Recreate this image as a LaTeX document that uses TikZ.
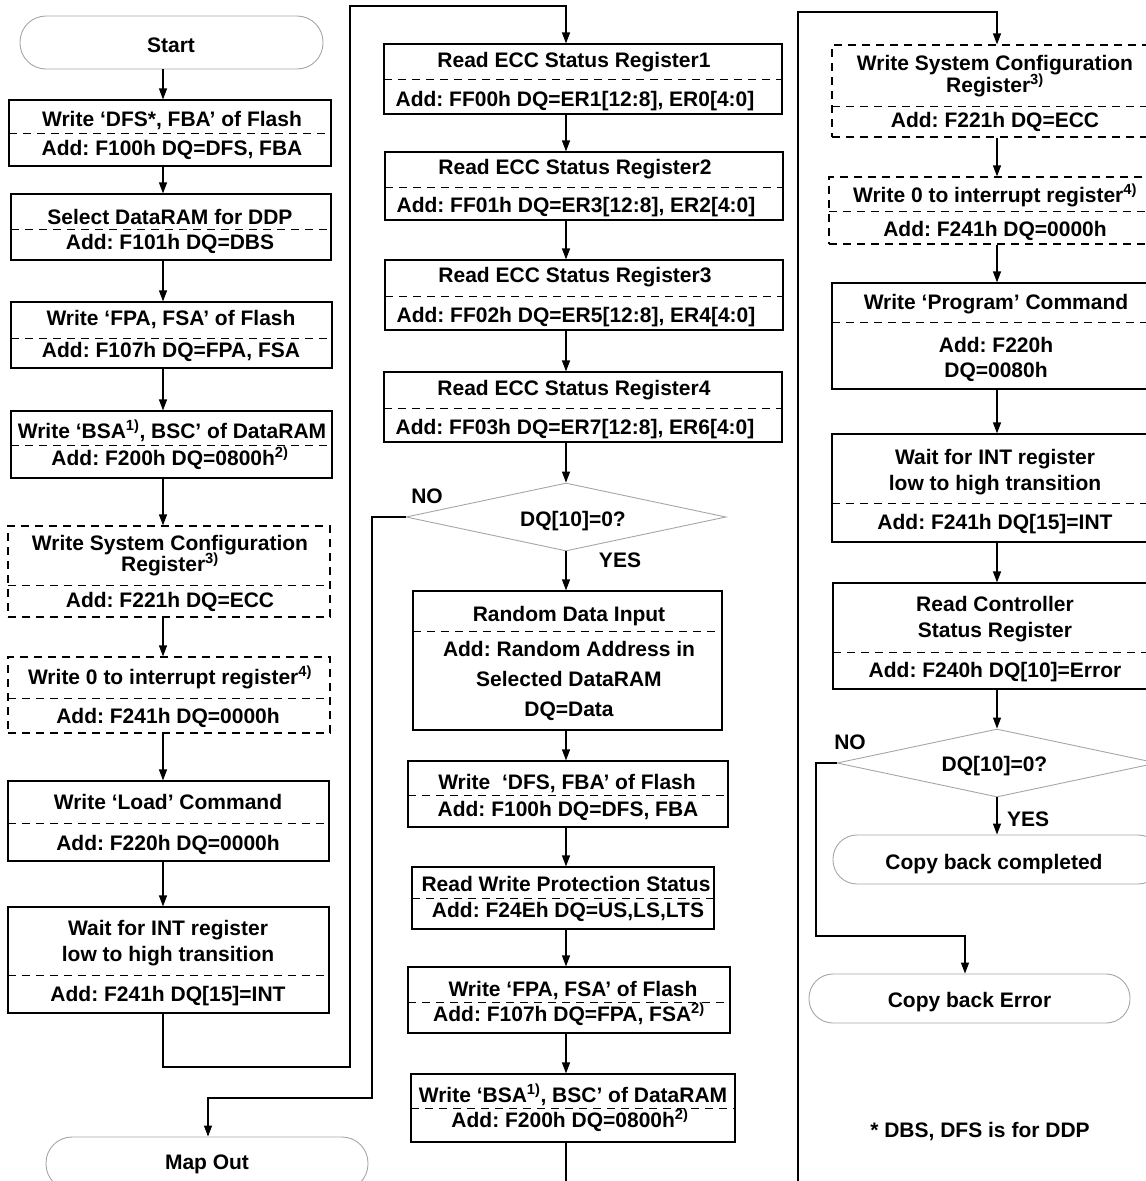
\documentclass[tikz,border=0pt]{standalone}
\usepackage{fontspec}
\setmainfont{Liberation Sans}
\usetikzlibrary{arrows.meta,shapes.geometric,fit}
\frenchspacing
\begin{document}
\begin{tikzpicture}[x=1pt,y=-1pt,
  font=\fontsize{21}{25}\selectfont\bfseries,
  box/.style={draw, line width=1.2pt, inner sep=0pt},
  dbox/.style={box, dash pattern=on 8pt off 6pt},
  term/.style={draw=gray!70, line width=0.9pt, inner sep=0pt, rounded corners=#1},
  term/.default=26pt,
  cond/.style={draw=gray!70, line width=0.9pt, shape=diamond, inner sep=0pt,
    shape aspect=4.7, minimum width=320pt, minimum height=68pt},
  lbl/.style={inner sep=0pt, text height=15pt, text depth=0pt},
  sep/.style={line width=1pt, dash pattern=on 8pt off 6pt},
  wire/.style={line width=1.2pt},
  arr/.style={wire, -{Triangle[length=11pt,width=8pt]}}]

\useasboundingbox (0,0) rectangle (1146,1181);
\clip (0,0) rectangle (1146,1181);

% column axes for the connectors
\coordinate (cL) at (163,0);
\coordinate (cM) at (566,0);
\coordinate (cR) at (997,0);
\coordinate (cMO) at (208,0);
\coordinate (cCE) at (965,0);

% ---------------- left column ----------------
\node[term, fit={(20,16)(323,69)}] (start) {};
\node[lbl] (startT) at (171,45) {Start};

\node[box, fit={(9,100)(331,166)}] (L1) {};
\draw[sep] (9,133) -- (331,133);
\node[lbl] (L1a) at (172,119) {Write ‘DFS*, FBA’ of Flash};
\node[lbl] (L1b) at (172,148) {Add: F100h DQ=DFS, FBA};

\node[box, fit={(11,194)(331,260)}] (L2) {};
\draw[sep] (11,229) -- (331,229);
\node[lbl] (L2a) at (170,216.5) {Select DataRAM for DDP};
\node[lbl] (L2b) at (170,241.5) {Add: F101h DQ=DBS};

\node[box, fit={(11,302)(332,368)}] (L3) {};
\draw[sep] (11,338) -- (332,338);
\node[lbl] (L3a) at (171,317.5) {Write ‘FPA, FSA’ of Flash};
\node[lbl] (L3b) at (171,350) {Add: F107h DQ=FPA, FSA};

\node[box, fit={(11,411)(332,478)}] (L4) {};
\draw[sep] (11,445) -- (332,445);
\node[lbl] (L4a) at (172,431) {Write ‘BSA\textsuperscript{1)}, BSC’ of DataRAM};
\node[lbl] (L4b) at (170,458) {Add: F200h DQ=0800h\textsuperscript{2)}};

\node[dbox, fit={(8,526)(330,617)}] (L5) {};
\draw[sep] (8,585) -- (330,585);
\node[lbl] (L5a) at (170,542.5) {Write System Configuration};
\node[lbl] (L5b) at (170,564) {Register\textsuperscript{3)}};
\node[lbl] (L5c) at (170,600) {Add: F221h DQ=ECC};

\node[dbox, fit={(8,657)(330,733)}] (L6) {};
\draw[sep] (8,698) -- (330,698);
\node[lbl] (L6a) at (170,677) {Write 0 to interrupt register\textsuperscript{4)}};
\node[lbl] (L6b) at (168,716) {Add: F241h DQ=0000h};

\node[box, fit={(8,781)(329,861)}] (L7) {};
\draw[sep] (8,823) -- (329,823);
\node[lbl] (L7a) at (168,802) {Write ‘Load’ Command};
\node[lbl] (L7b) at (168,843) {Add: F220h DQ=0000h};

\node[box, fit={(8,907)(329,1013)}] (L8) {};
\draw[sep] (8,975) -- (329,975);
\node[lbl] (L8a) at (168,928) {Wait for INT register};
\node[lbl] (L8b) at (168,953.5) {low to high transition};
\node[lbl] (L8c) at (168,993.5) {Add: F241h DQ[15]=INT};

\node[term, fit={(46,1137)(368,1190)}] (mapout) {};
\node[lbl] (mapoutT) at (207,1162) {Map Out};

% ---------------- middle column ----------------
\node[box, fit={(384,44)(782,114)}] (M1) {};
\draw[sep] (384,79) -- (782,79);
\node[lbl] (M1a) at (574,60) {Read ECC Status Register1};
\node[lbl] (M1b) at (575,98.5) {Add: FF00h DQ=ER1[12:8], ER0[4:0]};

\node[box, fit={(385,152)(783,220)}] (M2) {};
\draw[sep] (385,187) -- (783,187);
\node[lbl] (M2a) at (575,166.5) {Read ECC Status Register2};
\node[lbl] (M2b) at (576,205) {Add: FF01h DQ=ER3[12:8], ER2[4:0]};

\node[box, fit={(385,260)(783,330)}] (M3) {};
\draw[sep] (385,296) -- (783,296);
\node[lbl] (M3a) at (575,275) {Read ECC Status Register3};
\node[lbl] (M3b) at (576,315) {Add: FF02h DQ=ER5[12:8], ER4[4:0]};

\node[box, fit={(384,372)(782,442)}] (M4) {};
\draw[sep] (384,408) -- (782,408);
\node[lbl] (M4a) at (574,388) {Read ECC Status Register4};
\node[lbl] (M4b) at (575,427) {Add: FF03h DQ=ER7[12:8], ER6[4:0]};

\node[cond] (D1) at (566,517) {};
\node[lbl] (D1t) at (573,518.5) {DQ[10]=0?};
\node[lbl] (D1no) at (427,495.5) {NO};
\node[lbl] (D1yes) at (620,560) {YES};

\node[box, fit={(413,591)(722,730)}] (M5) {};
\draw[sep] (413,631) -- (722,631);
\node[lbl] (M5a) at (569,613.5) {Random Data Input};
\node[lbl] (M5b) at (569,648.5) {Add: Random Address in};
\node[lbl] (M5c) at (569,678.5) {Selected DataRAM};
\node[lbl] (M5d) at (569,708.5) {DQ=Data};

\node[box, fit={(408,761)(728,827)}] (M6) {};
\draw[sep] (408,795) -- (728,795);
\node[lbl] (M6a) at (567,781.5) {Write~ ‘DFS, FBA’ of Flash};
\node[lbl] (M6b) at (568,808.5) {Add: F100h DQ=DFS, FBA};

\node[box, fit={(412,867)(714,929)}] (M7) {};
\draw[sep] (412,898) -- (714,898);
\node[lbl] (M7a) at (566,883.5) {Read Write Protection Status};
\node[lbl] (M7b) at (568,910) {Add: F24Eh DQ=US,LS,LTS};

\node[box, fit={(408,967)(730,1033)}] (M8) {};
\draw[sep] (408,1002) -- (730,1002);
\node[lbl] (M8a) at (573,988.5) {Write ‘FPA, FSA’ of Flash};
\node[lbl] (M8b) at (569,1013.5) {Add: F107h DQ=FPA, FSA\textsuperscript{2)}};

\node[box, fit={(411,1074)(735,1142)}] (M9) {};
\draw[sep] (411,1108) -- (735,1108);
\node[lbl] (M9a) at (573,1095) {Write ‘BSA\textsuperscript{1)}, BSC’ of DataRAM};
\node[lbl] (M9b) at (570,1120) {Add: F200h DQ=0800h\textsuperscript{2)}};

% ---------------- right column ----------------
\node[dbox, fit={(832,45)(1162,137)}] (R1) {};
\draw[sep] (832,106) -- (1162,106);
\node[lbl] (R1a) at (995,62.5) {Write System Configuration};
\node[lbl] (R1b) at (995,85) {Register\textsuperscript{3)}};
\node[lbl] (R1c) at (995,120) {Add: F221h DQ=ECC};

\node[dbox, fit={(829,177)(1162,244)}] (R2) {};
\draw[sep] (829,211) -- (1162,211);
\node[lbl] (R2a) at (995,195) {Write 0 to interrupt register\textsuperscript{4)}};
\node[lbl] (R2b) at (995,228.5) {Add: F241h DQ=0000h};

\node[box, fit={(832,283)(1162,389)}] (R3) {};
\draw[sep] (832,322) -- (1162,322);
\node[lbl] (R3a) at (996,301.5) {Write ‘Program’ Command};
\node[lbl] (R3b) at (996,345) {Add: F220h};
\node[lbl] (R3c) at (996,370) {DQ=0080h};

\node[box, fit={(832,434)(1162,542)}] (R4) {};
\draw[sep] (832,503) -- (1162,503);
\node[lbl] (R4a) at (995,456.5) {Wait for INT register};
\node[lbl] (R4b) at (995,483) {low to high transition};
\node[lbl] (R4c) at (995,521.5) {Add: F241h DQ[15]=INT};

\node[box, fit={(833,583)(1162,689)}] (R5) {};
\draw[sep] (833,652) -- (1162,652);
\node[lbl] (R5a) at (995,603.5) {Read Controller};
\node[lbl] (R5b) at (995,630) {Status Register};
\node[lbl] (R5c) at (995,670) {Add: F240h DQ[10]=Error};

\node[cond] (D2) at (997,763) {};
\node[lbl] (D2t) at (994.5,763.5) {DQ[10]=0?};
\node[lbl] (D2no) at (850,741.5) {NO};
\node[lbl] (D2yes) at (1028,818.5) {YES};

\node[term=24pt, fit={(833,835)(1162,884)}] (cbc) {};
\node[lbl] (cbcT) at (994,861.5) {Copy back completed};

\node[term=24pt, fit={(809,974)(1130,1023)}] (cbe) {};
\node[lbl] (cbeT) at (969.5,1000) {Copy back Error};

\node[lbl] (note) at (980,1129.5) {* DBS, DFS is for DDP};

% ---------------- connectors ----------------
\draw[arr] (start.south -| cL) -- (L1.north -| cL);
\draw[arr] (L1.south -| cL) -- (L2.north -| cL);
\draw[arr] (L2.south -| cL) -- (L3.north -| cL);
\draw[arr] (L3.south -| cL) -- (L4.north -| cL);
\draw[arr] (L4.south -| cL) -- (L5.north -| cL);
\draw[arr] (L5.south -| cL) -- (L6.north -| cL);
\draw[arr] (L6.south -| cL) -- (L7.north -| cL);
\draw[arr] (L7.south -| cL) -- (L8.north -| cL);
\draw[arr] (L8.south -| cL) |- (350,1067) |- (566,6) -- (M1.north -| cM);

\draw[arr] (M1.south -| cM) -- (M2.north -| cM);
\draw[arr] (M2.south -| cM) -- (M3.north -| cM);
\draw[arr] (M3.south -| cM) -- (M4.north -| cM);
\draw[arr] (M4.south -| cM) -- (D1.north);
\draw[arr] (D1.south) -- (M5.north -| cM);
\draw[arr] (D1.west) -| (372,1098) -| (mapout.north -| cMO);
\draw[arr] (M5.south -| cM) -- (M6.north -| cM);
\draw[arr] (M6.south -| cM) -- (M7.north -| cM);
\draw[arr] (M7.south -| cM) -- (M8.north -| cM);
\draw[arr] (M8.south -| cM) -- (M9.north -| cM);
\draw[arr] (M9.south -| cM) -- (566,1200) -| (798,12) -| (R1.north -| cR);

\draw[arr] (R1.south -| cR) -- (R2.north -| cR);
\draw[arr] (R2.south -| cR) -- (R3.north -| cR);
\draw[arr] (R3.south -| cR) -- (R4.north -| cR);
\draw[arr] (R4.south -| cR) -- (R5.north -| cR);
\draw[arr] (R5.south -| cR) -- (D2.north);
\draw[arr] (D2.south) -- (cbc.north -| cR);
\draw[arr] (D2.west) -| (816,936) -| (cbe.north -| cCE);
\end{tikzpicture}
\end{document}
